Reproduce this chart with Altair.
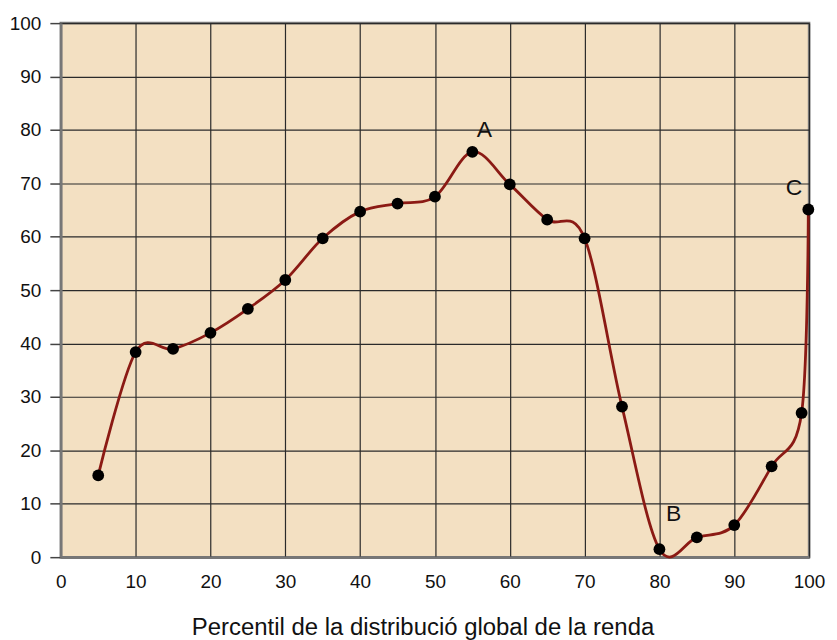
import altair as alt
import pandas as pd

percentile = [5, 10, 15, 20, 25, 30, 35, 40, 45, 50, 55, 60, 65, 70, 75, 80, 85, 90, 95, 99, 99.9]
growth = [15.3, 38.4, 39.0, 42.0, 46.5, 51.9, 59.7, 64.7, 66.2, 67.5, 75.9, 69.8, 63.2, 59.7, 28.2, 1.5, 3.7, 6.0, 17.0, 27.0, 65.1]

label_text = ["A", "B", "C"]
label_x = [56.6, 81.9, 98.0]
label_y = [79.9, 8.0, 69.2]

df = pd.DataFrame({"x": percentile, "y": growth})
lab = pd.DataFrame({"x": label_x, "y": label_y, "t": label_text})

xs = alt.Scale(domain=[0, 100], nice=False)
ys = alt.Scale(domain=[0, 100], nice=False)

x_axis = alt.Axis(values=list(range(0, 101, 10)), title="Percentil de la distribució global de la renda",
                  grid=True, gridColor="#2a2a2a", gridWidth=1.2, gridOpacity=1,
                  tickSize=0, labelPadding=15, labelFontSize=19, labelFont="Liberation Sans",
                  labelColor="#111", labelFlush=False, labelOverlap=False,
                  titleFont="Liberation Sans", titleFontSize=24,
                  titleFontWeight="normal", titleColor="#111",
                  titleX=363, titleY=78, titleBaseline="alphabetic", titleAlign="center",
                  domainColor="#777", domainWidth=2.5)
y_axis = alt.Axis(values=list(range(0, 101, 10)), title=None,
                  grid=True, gridColor="#2a2a2a", gridWidth=1.2, gridOpacity=1,
                  tickSize=11, tickColor="#444", tickWidth=1.5, labelPadding=9,
                  labelFontSize=19, labelFont="Liberation Sans", labelColor="#111",
                  labelFlush=False, labelOverlap=False,
                  domainColor="#777", domainWidth=2.5)

line = alt.Chart(df).mark_line(interpolate="cardinal", tension=0, color="#8B1A14", strokeWidth=2.8, clip=False).encode(
    x=alt.X("x:Q", scale=xs, axis=x_axis),
    y=alt.Y("y:Q", scale=ys, axis=y_axis),
)
pts = alt.Chart(df).mark_circle(color="black", opacity=1, size=140).encode(
    x=alt.X("x:Q", scale=xs),
    y=alt.Y("y:Q", scale=ys),
)
txt = alt.Chart(lab).mark_text(fontSize=23, font="Liberation Sans", color="#111").encode(
    x=alt.X("x:Q", scale=xs),
    y=alt.Y("y:Q", scale=ys),
    text="t:N",
)

chart = (line + pts + txt).properties(
    width=751, height=536,
    autosize=alt.AutoSizeParams(type="none"),
    padding={"left": 53, "top": 14, "right": 20, "bottom": 90},
    background="white",
).configure_view(fill="#F3E0C2", stroke="#777", strokeWidth=2.5)

chart.save("out.html", embed_options={"renderer": "svg", "actions": False})
